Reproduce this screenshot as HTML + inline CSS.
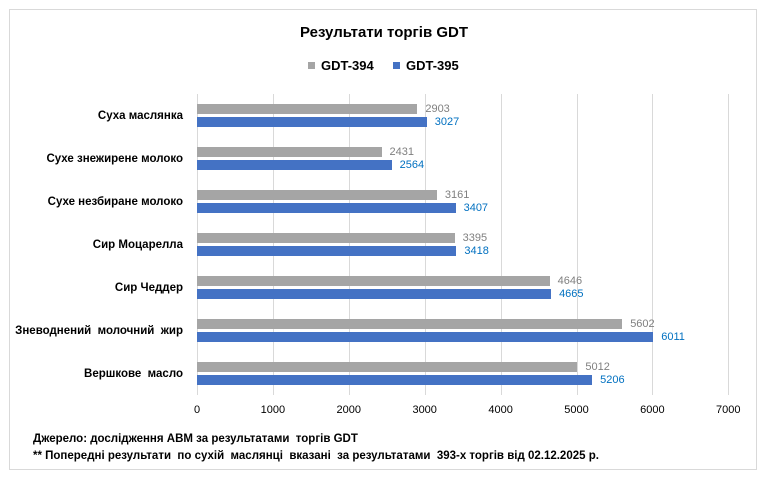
<!DOCTYPE html>
<html><head><meta charset="utf-8"><style>
body{margin:0;width:768px;height:478px;background:#fff;position:relative;font-family:"Liberation Sans","DejaVu Sans",sans-serif;overflow:hidden}
.a{position:absolute}
.box{left:9px;top:9px;width:746px;height:459px;border:1px solid #d9d9d9}
.grid{top:94px;height:301px;width:1px;background:#d9d9d9}
.cat{right:585px;font-size:11.5px;font-weight:bold;color:#000;white-space:nowrap;transform:translateY(-50%)}
.bar{left:197px;height:10px}
.g{background:#a5a5a5}.b{background:#4472c4}
.lg{font-size:11px;color:#7f7f7f;transform:translateY(-50%)}
.lb{font-size:11px;color:#0070c0;transform:translateY(-50%)}
.tick{top:404px;font-size:11px;color:#000;transform:translateX(-50%)}
.foot{left:33px;font-size:11.5px;font-weight:bold;white-space:nowrap}
</style></head><body>
<div class="a box"></div>
<div class="a" style="left:0;width:768px;top:24px;text-align:center;font-size:15px;font-weight:bold">Результати торгів GDT</div>
<div class="a" style="left:308px;top:62px;width:7px;height:7px;background:#a5a5a5"></div>
<div class="a" style="left:321px;top:58px;font-size:13px;font-weight:bold">GDT-394</div>
<div class="a" style="left:393px;top:62px;width:7px;height:7px;background:#4472c4"></div>
<div class="a" style="left:406px;top:58px;font-size:13px;font-weight:bold">GDT-395</div>
<div id="c"></div>
<div class="a foot" style="top:433px">Джерело: дослідження АВМ за результатами&nbsp; торгів GDT</div>
<div class="a foot" style="top:450px">** Попередні результати&nbsp; по сухій&nbsp; маслянці&nbsp; вказані&nbsp; за результатами&nbsp; 393-х торгів від 02.12.2025 р.</div>
<script>
var s=75.9/1000,h='';
for(var i=0;i<=7;i++){var x=197+i*1000*s;h+='<div class="a grid" style="left:'+Math.round(x)+'px"></div><div class="a tick" style="left:'+x+'px">'+(i*1000)+'</div>';}
var d=[["Суха маслянка",2903,3027],["Сухе знежирене молоко",2431,2564],["Сухе незбиране молоко",3161,3407],["Сир Моцарелла",3395,3418],["Сир Чеддер",4646,4665],["Зневоднений&nbsp; молочний&nbsp; жир",5602,6011],["Вершкове&nbsp; масло",5012,5206]];
d.forEach(function(r,k){var y=104+k*43;
h+='<div class="a cat" style="top:'+(y+12)+'px">'+r[0]+'</div>';
h+='<div class="a bar g" style="top:'+y+'px;width:'+(r[1]*s)+'px"></div>';
h+='<div class="a bar b" style="top:'+(y+13)+'px;width:'+(r[2]*s)+'px"></div>';
h+='<div class="a lg" style="top:'+(y+5)+'px;left:'+(197+r[1]*s+8)+'px">'+r[1]+'</div>';
h+='<div class="a lb" style="top:'+(y+18)+'px;left:'+(197+r[2]*s+8)+'px">'+r[2]+'</div>';});
document.getElementById('c').innerHTML=h;
</script>
</body></html>
